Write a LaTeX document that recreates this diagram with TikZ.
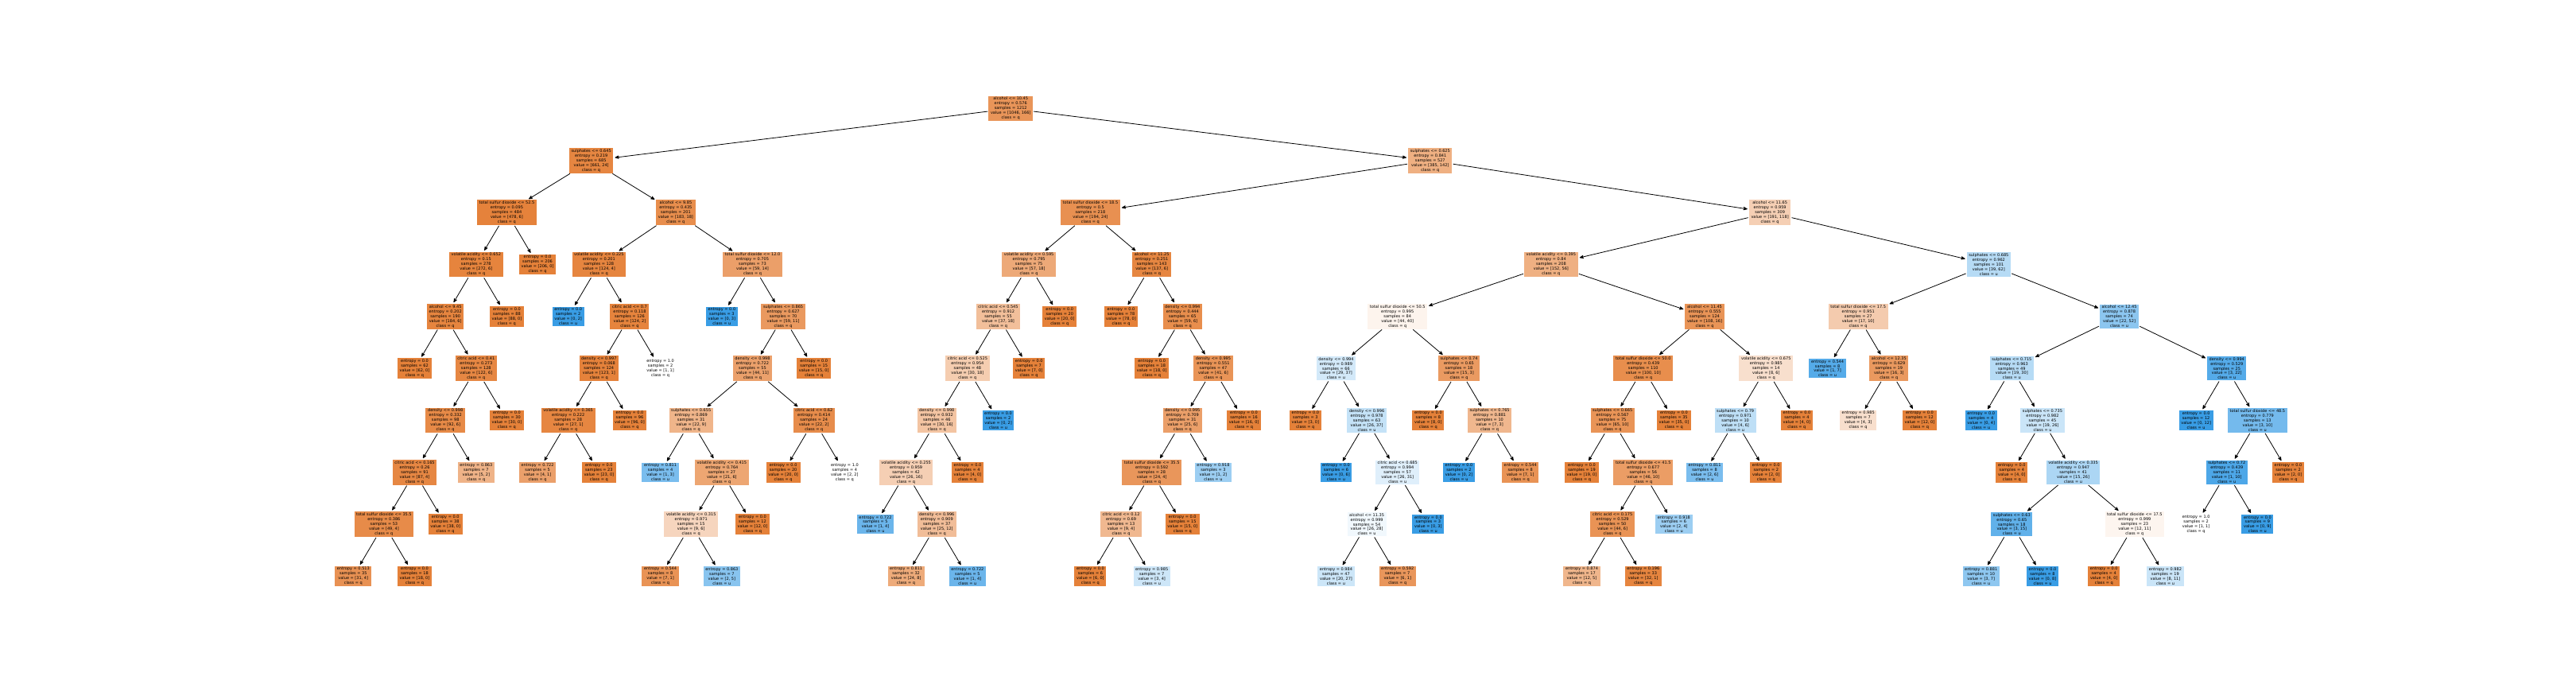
\documentclass[tikz,border=0pt]{standalone}
\usepackage{fontspec}
\newfontfamily\treefont{DejaVu Sans}
\usetikzlibrary{arrows}
\definecolor{qclr}{RGB}{229,129,57}
\definecolor{uclr}{RGB}{57,157,229}

\begin{document}
\begin{tikzpicture}[x=38.63pt,y=-65.33pt,->,>=stealth',shorten >=2pt,shorten <=1pt,
			every edge/.style={draw,line width=0.8pt},
			tree node/.style={rectangle,align=center,inner xsep=2.6pt,inner ysep=1.4pt,font=\treefont\fontsize{5}{5.95}\selectfont},
			q node/.style={tree node,fill=qclr!#1!white},
			u node/.style={tree node,fill=uclr!#1!white}]
			\useasboundingbox (-11.501,-2.0894) rectangle (72.371,11.136);
			% left half: alcohol <= 10.45
			\node[q node=84] (0) at (21.406,0) {alcohol <= 10.45\\entropy = 0.576\\samples = 1212\\value = [1046, 166]\\class = q};
			\node[q node=96] (1) at (7.75,1) {sulphates <= 0.645\\entropy = 0.219\\samples = 685\\value = [661, 24]\\class = q};
			\node[q node=99] (2) at (5,2) {total sulfur dioxide <= 52.5\\entropy = 0.095\\samples = 484\\value = [478, 6]\\class = q};
			\node[q node=98] (3) at (4,3) {volatile acidity <= 0.652\\entropy = 0.15\\samples = 278\\value = [272, 6]\\class = q};
			\node[q node=97] (4) at (3,4) {alcohol <= 9.45\\entropy = 0.202\\samples = 190\\value = [184, 6]\\class = q};
			\node[q node=100] (5) at (2,5) {entropy = 0.0\\samples = 62\\value = [62, 0]\\class = q};
			\node[q node=95] (6) at (4,5) {citric acid <= 0.41\\entropy = 0.273\\samples = 128\\value = [122, 6]\\class = q};
			\node[q node=93] (7) at (3,6) {density <= 0.998\\entropy = 0.332\\samples = 98\\value = [92, 6]\\class = q};
			\node[q node=95] (8) at (2,7) {citric acid <= 0.165\\entropy = 0.26\\samples = 91\\value = [87, 4]\\class = q};
			\node[q node=92] (9) at (1,8) {total sulfur dioxide <= 35.5\\entropy = 0.386\\samples = 53\\value = [49, 4]\\class = q};
			\node[q node=87] (10) at (0,9) {entropy = 0.513\\samples = 35\\value = [31, 4]\\class = q};
			\node[q node=100] (11) at (2,9) {entropy = 0.0\\samples = 18\\value = [18, 0]\\class = q};
			\node[q node=100] (12) at (3,8) {entropy = 0.0\\samples = 38\\value = [38, 0]\\class = q};
			\node[q node=60] (13) at (4,7) {entropy = 0.863\\samples = 7\\value = [5, 2]\\class = q};
			\node[q node=100] (14) at (5,6) {entropy = 0.0\\samples = 30\\value = [30, 0]\\class = q};
			\node[q node=100] (15) at (5,4) {entropy = 0.0\\samples = 88\\value = [88, 0]\\class = q};
			\node[q node=100] (16) at (6,3) {entropy = 0.0\\samples = 206\\value = [206, 0]\\class = q};
			\node[q node=90] (17) at (10.5,2) {alcohol <= 9.85\\entropy = 0.435\\samples = 201\\value = [183, 18]\\class = q};
			\node[q node=97] (18) at (8,3) {volatile acidity <= 0.225\\entropy = 0.201\\samples = 128\\value = [124, 4]\\class = q};
			\node[u node=100] (19) at (7,4) {entropy = 0.0\\samples = 2\\value = [0, 2]\\class = u};
			\node[q node=98] (20) at (9,4) {citric acid <= 0.7\\entropy = 0.118\\samples = 126\\value = [124, 2]\\class = q};
			\node[q node=99] (21) at (8,5) {density <= 0.997\\entropy = 0.068\\samples = 124\\value = [123, 1]\\class = q};
			\node[q node=96] (22) at (7,6) {volatile acidity <= 0.365\\entropy = 0.222\\samples = 28\\value = [27, 1]\\class = q};
			\node[q node=75] (23) at (6,7) {entropy = 0.722\\samples = 5\\value = [4, 1]\\class = q};
			\node[q node=100] (24) at (8,7) {entropy = 0.0\\samples = 23\\value = [23, 0]\\class = q};
			\node[q node=100] (25) at (9,6) {entropy = 0.0\\samples = 96\\value = [96, 0]\\class = q};
			\node[q node=0] (26) at (10,5) {entropy = 1.0\\samples = 2\\value = [1, 1]\\class = q};
			\node[q node=76] (27) at (13,3) {total sulfur dioxide <= 12.0\\entropy = 0.705\\samples = 73\\value = [59, 14]\\class = q};
			\node[u node=100] (28) at (12,4) {entropy = 0.0\\samples = 3\\value = [0, 3]\\class = u};
			\node[q node=81] (29) at (14,4) {sulphates <= 0.865\\entropy = 0.627\\samples = 70\\value = [59, 11]\\class = q};
			\node[q node=75] (30) at (13,5) {density <= 0.998\\entropy = 0.722\\samples = 55\\value = [44, 11]\\class = q};
			\node[q node=59] (31) at (11,6) {sulphates <= 0.655\\entropy = 0.869\\samples = 31\\value = [22, 9]\\class = q};
			\node[u node=67] (32) at (10,7) {entropy = 0.811\\samples = 4\\value = [1, 3]\\class = u};
			\node[q node=71] (33) at (12,7) {volatile acidity <= 0.415\\entropy = 0.764\\samples = 27\\value = [21, 6]\\class = q};
			\node[q node=33] (34) at (11,8) {volatile acidity <= 0.315\\entropy = 0.971\\samples = 15\\value = [9, 6]\\class = q};
			\node[q node=86] (35) at (10,9) {entropy = 0.544\\samples = 8\\value = [7, 1]\\class = q};
			\node[u node=60] (36) at (12,9) {entropy = 0.863\\samples = 7\\value = [2, 5]\\class = u};
			\node[q node=100] (37) at (13,8) {entropy = 0.0\\samples = 12\\value = [12, 0]\\class = q};
			\node[q node=91] (38) at (15,6) {citric acid <= 0.62\\entropy = 0.414\\samples = 24\\value = [22, 2]\\class = q};
			\node[q node=100] (39) at (14,7) {entropy = 0.0\\samples = 20\\value = [20, 0]\\class = q};
			\node[q node=0] (40) at (16,7) {entropy = 1.0\\samples = 4\\value = [2, 2]\\class = q};
			\node[q node=100] (41) at (15,5) {entropy = 0.0\\samples = 15\\value = [15, 0]\\class = q};
			% right half: sulphates <= 0.625
			\node[q node=63] (42) at (35.063,1) {sulphates <= 0.625\\entropy = 0.841\\samples = 527\\value = [385, 142]\\class = q};
			\node[q node=88] (43) at (24,2) {total sulfur dioxide <= 18.5\\entropy = 0.5\\samples = 218\\value = [194, 24]\\class = q};
			\node[q node=68] (44) at (22,3) {volatile acidity <= 0.595\\entropy = 0.795\\samples = 75\\value = [57, 18]\\class = q};
			\node[q node=51] (45) at (21,4) {citric acid <= 0.545\\entropy = 0.912\\samples = 55\\value = [37, 18]\\class = q};
			\node[q node=40] (46) at (20,5) {citric acid <= 0.525\\entropy = 0.954\\samples = 48\\value = [30, 18]\\class = q};
			\node[q node=47] (47) at (19,6) {density <= 0.998\\entropy = 0.932\\samples = 46\\value = [30, 16]\\class = q};
			\node[q node=38] (48) at (18,7) {volatile acidity <= 0.255\\entropy = 0.959\\samples = 42\\value = [26, 16]\\class = q};
			\node[u node=75] (49) at (17,8) {entropy = 0.722\\samples = 5\\value = [1, 4]\\class = u};
			\node[q node=52] (50) at (19,8) {density <= 0.996\\entropy = 0.909\\samples = 37\\value = [25, 12]\\class = q};
			\node[q node=67] (51) at (18,9) {entropy = 0.811\\samples = 32\\value = [24, 8]\\class = q};
			\node[u node=75] (52) at (20,9) {entropy = 0.722\\samples = 5\\value = [1, 4]\\class = u};
			\node[q node=100] (53) at (20,7) {entropy = 0.0\\samples = 4\\value = [4, 0]\\class = q};
			\node[u node=100] (54) at (21,6) {entropy = 0.0\\samples = 2\\value = [0, 2]\\class = u};
			\node[q node=100] (55) at (22,5) {entropy = 0.0\\samples = 7\\value = [7, 0]\\class = q};
			\node[q node=100] (56) at (23,4) {entropy = 0.0\\samples = 20\\value = [20, 0]\\class = q};
			\node[q node=96] (57) at (26,3) {alcohol <= 11.25\\entropy = 0.251\\samples = 143\\value = [137, 6]\\class = q};
			\node[q node=100] (58) at (25,4) {entropy = 0.0\\samples = 78\\value = [78, 0]\\class = q};
			\node[q node=90] (59) at (27,4) {density <= 0.994\\entropy = 0.444\\samples = 65\\value = [59, 6]\\class = q};
			\node[q node=100] (60) at (26,5) {entropy = 0.0\\samples = 18\\value = [18, 0]\\class = q};
			\node[q node=85] (61) at (28,5) {density <= 0.995\\entropy = 0.551\\samples = 47\\value = [41, 6]\\class = q};
			\node[q node=76] (62) at (27,6) {density <= 0.995\\entropy = 0.709\\samples = 31\\value = [25, 6]\\class = q};
			\node[q node=83] (63) at (26,7) {total sulfur dioxide <= 35.5\\entropy = 0.592\\samples = 28\\value = [24, 4]\\class = q};
			\node[q node=56] (64) at (25,8) {citric acid <= 0.12\\entropy = 0.69\\samples = 13\\value = [9, 4]\\class = q};
			\node[q node=100] (65) at (24,9) {entropy = 0.0\\samples = 6\\value = [6, 0]\\class = q};
			\node[u node=25] (66) at (26,9) {entropy = 0.985\\samples = 7\\value = [3, 4]\\class = u};
			\node[q node=100] (67) at (27,8) {entropy = 0.0\\samples = 15\\value = [15, 0]\\class = q};
			\node[u node=50] (68) at (28,7) {entropy = 0.918\\samples = 3\\value = [1, 2]\\class = u};
			\node[q node=100] (69) at (29,6) {entropy = 0.0\\samples = 16\\value = [16, 0]\\class = q};
			\node[q node=38] (70) at (46.125,2) {alcohol <= 11.65\\entropy = 0.959\\samples = 309\\value = [191, 118]\\class = q};
			\node[q node=63] (71) at (39,3) {volatile acidity <= 0.395\\entropy = 0.84\\samples = 208\\value = [152, 56]\\class = q};
			\node[q node=9] (72) at (34,4) {total sulfur dioxide <= 50.5\\entropy = 0.995\\samples = 84\\value = [44, 40]\\class = q};
			\node[u node=22] (73) at (32,5) {density <= 0.994\\entropy = 0.989\\samples = 66\\value = [29, 37]\\class = u};
			\node[q node=100] (74) at (31,6) {entropy = 0.0\\samples = 3\\value = [3, 0]\\class = q};
			\node[u node=30] (75) at (33,6) {density <= 0.996\\entropy = 0.978\\samples = 63\\value = [26, 37]\\class = u};
			\node[u node=100] (76) at (32,7) {entropy = 0.0\\samples = 6\\value = [0, 6]\\class = u};
			\node[u node=16] (77) at (34,7) {citric acid <= 0.685\\entropy = 0.994\\samples = 57\\value = [26, 31]\\class = u};
			\node[u node=7] (78) at (33,8) {alcohol <= 11.35\\entropy = 0.999\\samples = 54\\value = [26, 28]\\class = u};
			\node[u node=26] (79) at (32,9) {entropy = 0.984\\samples = 47\\value = [20, 27]\\class = u};
			\node[q node=83] (80) at (34,9) {entropy = 0.592\\samples = 7\\value = [6, 1]\\class = q};
			\node[u node=100] (81) at (35,8) {entropy = 0.0\\samples = 3\\value = [0, 3]\\class = u};
			\node[q node=80] (82) at (36,5) {sulphates <= 0.74\\entropy = 0.65\\samples = 18\\value = [15, 3]\\class = q};
			\node[q node=100] (83) at (35,6) {entropy = 0.0\\samples = 8\\value = [8, 0]\\class = q};
			\node[q node=57] (84) at (37,6) {sulphates <= 0.765\\entropy = 0.881\\samples = 10\\value = [7, 3]\\class = q};
			\node[u node=100] (85) at (36,7) {entropy = 0.0\\samples = 2\\value = [0, 2]\\class = u};
			\node[q node=86] (86) at (38,7) {entropy = 0.544\\samples = 8\\value = [7, 1]\\class = q};
			\node[q node=85] (87) at (44,4) {alcohol <= 11.45\\entropy = 0.555\\samples = 124\\value = [108, 16]\\class = q};
			\node[q node=90] (88) at (42,5) {total sulfur dioxide <= 50.0\\entropy = 0.439\\samples = 110\\value = [100, 10]\\class = q};
			\node[q node=85] (89) at (41,6) {sulphates <= 0.665\\entropy = 0.567\\samples = 75\\value = [65, 10]\\class = q};
			\node[q node=100] (90) at (40,7) {entropy = 0.0\\samples = 19\\value = [19, 0]\\class = q};
			\node[q node=78] (91) at (42,7) {total sulfur dioxide <= 41.5\\entropy = 0.677\\samples = 56\\value = [46, 10]\\class = q};
			\node[q node=86] (92) at (41,8) {citric acid <= 0.175\\entropy = 0.529\\samples = 50\\value = [44, 6]\\class = q};
			\node[q node=58] (93) at (40,9) {entropy = 0.874\\samples = 17\\value = [12, 5]\\class = q};
			\node[q node=97] (94) at (42,9) {entropy = 0.196\\samples = 33\\value = [32, 1]\\class = q};
			\node[u node=50] (95) at (43,8) {entropy = 0.918\\samples = 6\\value = [2, 4]\\class = u};
			\node[q node=100] (96) at (43,6) {entropy = 0.0\\samples = 35\\value = [35, 0]\\class = q};
			\node[q node=25] (97) at (46,5) {volatile acidity <= 0.675\\entropy = 0.985\\samples = 14\\value = [8, 6]\\class = q};
			\node[u node=33] (98) at (45,6) {sulphates <= 0.79\\entropy = 0.971\\samples = 10\\value = [4, 6]\\class = u};
			\node[u node=67] (99) at (44,7) {entropy = 0.811\\samples = 8\\value = [2, 6]\\class = u};
			\node[q node=100] (100) at (46,7) {entropy = 0.0\\samples = 2\\value = [2, 0]\\class = q};
			\node[q node=100] (101) at (47,6) {entropy = 0.0\\samples = 4\\value = [4, 0]\\class = q};
			\node[u node=37] (102) at (53.25,3) {sulphates <= 0.685\\entropy = 0.962\\samples = 101\\value = [39, 62]\\class = u};
			\node[q node=41] (103) at (49,4) {total sulfur dioxide <= 17.5\\entropy = 0.951\\samples = 27\\value = [17, 10]\\class = q};
			\node[u node=86] (104) at (48,5) {entropy = 0.544\\samples = 8\\value = [1, 7]\\class = u};
			\node[q node=81] (105) at (50,5) {alcohol <= 12.35\\entropy = 0.629\\samples = 19\\value = [16, 3]\\class = q};
			\node[q node=25] (106) at (49,6) {entropy = 0.985\\samples = 7\\value = [4, 3]\\class = q};
			\node[q node=100] (107) at (51,6) {entropy = 0.0\\samples = 12\\value = [12, 0]\\class = q};
			\node[u node=58] (108) at (57.5,4) {alcohol <= 12.45\\entropy = 0.878\\samples = 74\\value = [22, 52]\\class = u};
			\node[u node=37] (109) at (54,5) {sulphates <= 0.715\\entropy = 0.963\\samples = 49\\value = [19, 30]\\class = u};
			\node[u node=100] (110) at (53,6) {entropy = 0.0\\samples = 4\\value = [0, 4]\\class = u};
			\node[u node=27] (111) at (55,6) {sulphates <= 0.735\\entropy = 0.982\\samples = 45\\value = [19, 26]\\class = u};
			\node[q node=100] (112) at (54,7) {entropy = 0.0\\samples = 4\\value = [4, 0]\\class = q};
			\node[u node=42] (113) at (56,7) {volatile acidity <= 0.335\\entropy = 0.947\\samples = 41\\value = [15, 26]\\class = u};
			\node[u node=80] (114) at (54,8) {sulphates <= 0.63\\entropy = 0.65\\samples = 18\\value = [3, 15]\\class = u};
			\node[u node=57] (115) at (53,9) {entropy = 0.881\\samples = 10\\value = [3, 7]\\class = u};
			\node[u node=100] (116) at (55,9) {entropy = 0.0\\samples = 8\\value = [0, 8]\\class = u};
			\node[q node=8] (117) at (58,8) {total sulfur dioxide <= 17.5\\entropy = 0.999\\samples = 23\\value = [12, 11]\\class = q};
			\node[q node=100] (118) at (57,9) {entropy = 0.0\\samples = 4\\value = [4, 0]\\class = q};
			\node[u node=27] (119) at (59,9) {entropy = 0.982\\samples = 19\\value = [8, 11]\\class = u};
			\node[u node=86] (120) at (61,5) {density <= 0.994\\entropy = 0.529\\samples = 25\\value = [3, 22]\\class = u};
			\node[u node=100] (121) at (60,6) {entropy = 0.0\\samples = 12\\value = [0, 12]\\class = u};
			\node[u node=70] (122) at (62,6) {total sulfur dioxide <= 48.5\\entropy = 0.779\\samples = 13\\value = [3, 10]\\class = u};
			\node[u node=90] (123) at (61,7) {sulphates <= 0.72\\entropy = 0.439\\samples = 11\\value = [1, 10]\\class = u};
			\node[q node=0] (124) at (60,8) {entropy = 1.0\\samples = 2\\value = [1, 1]\\class = q};
			\node[u node=100] (125) at (62,8) {entropy = 0.0\\samples = 9\\value = [0, 9]\\class = u};
			\node[q node=100] (126) at (63,7) {entropy = 0.0\\samples = 2\\value = [2, 0]\\class = q};
			\path (0) edge (1) edge (42)
			(1) edge (2) edge (17)
			(2) edge (3) edge (16)
			(3) edge (4) edge (15)
			(4) edge (5) edge (6)
			(6) edge (7) edge (14)
			(7) edge (8) edge (13)
			(8) edge (9) edge (12)
			(9) edge (10) edge (11)
			(17) edge (18) edge (27)
			(18) edge (19) edge (20)
			(20) edge (21) edge (26)
			(21) edge (22) edge (25)
			(22) edge (23) edge (24)
			(27) edge (28) edge (29)
			(29) edge (30) edge (41)
			(30) edge (31) edge (38)
			(31) edge (32) edge (33)
			(33) edge (34) edge (37)
			(34) edge (35) edge (36)
			(38) edge (39) edge (40)
			(42) edge (43) edge (70)
			(43) edge (44) edge (57)
			(44) edge (45) edge (56)
			(45) edge (46) edge (55)
			(46) edge (47) edge (54)
			(47) edge (48) edge (53)
			(48) edge (49) edge (50)
			(50) edge (51) edge (52)
			(57) edge (58) edge (59)
			(59) edge (60) edge (61)
			(61) edge (62) edge (69)
			(62) edge (63) edge (68)
			(63) edge (64) edge (67)
			(64) edge (65) edge (66)
			(70) edge (71) edge (102)
			(71) edge (72) edge (87)
			(72) edge (73) edge (82)
			(73) edge (74) edge (75)
			(75) edge (76) edge (77)
			(77) edge (78) edge (81)
			(78) edge (79) edge (80)
			(82) edge (83) edge (84)
			(84) edge (85) edge (86)
			(87) edge (88) edge (97)
			(88) edge (89) edge (96)
			(89) edge (90) edge (91)
			(91) edge (92) edge (95)
			(92) edge (93) edge (94)
			(97) edge (98) edge (101)
			(98) edge (99) edge (100)
			(102) edge (103) edge (108)
			(103) edge (104) edge (105)
			(105) edge (106) edge (107)
			(108) edge (109) edge (120)
			(109) edge (110) edge (111)
			(111) edge (112) edge (113)
			(113) edge (114) edge (117)
			(114) edge (115) edge (116)
			(117) edge (118) edge (119)
			(120) edge (121) edge (122)
			(122) edge (123) edge (126)
			(123) edge (124) edge (125);
		\end{tikzpicture}
\end{document}
